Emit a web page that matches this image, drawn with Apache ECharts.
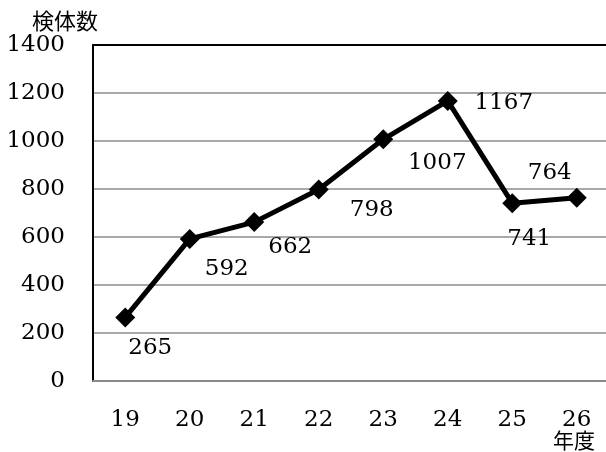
<!DOCTYPE html>
<html>
<head>
<meta charset="utf-8">
<script src="https://cdn.jsdelivr.net/npm/echarts@6/dist/echarts.min.js"></script>
<style>
  html, body { margin: 0; padding: 0; background: #fff; }
  #chart { width: 606px; height: 452px; }
</style>
</head>
<body>
<div id="chart"></div>
<script>
// Fiscal years (Heisei) and number of specimens per year
const years = ['19', '20', '21', '22', '23', '24', '25', '26'];
const specimens = [265, 592, 662, 798, 1007, 1167, 741, 764];
const yTicks = { min: 0, max: 1400, interval: 200 };

// Where each value label sits relative to its point (px)
const labelOffsets = [
  [25, 31], [37, 30], [36, 25], [53, 21],
  [54, 24], [56, 2], [17, 36], [-27, -25]
];

const serif = '"DejaVu Serif", "Liberation Serif", serif';
const cjk = '"Noto Sans CJK JP", sans-serif';

const chart = echarts.init(document.getElementById('chart'), null, { renderer: 'canvas' });

chart.setOption({
  animation: false,
  backgroundColor: '#ffffff',
  grid: {
    left: 93, top: 45, width: 516, height: 336,
    containLabel: false, outerBoundsMode: 'none'
  },
  xAxis: [
    {
      type: 'category',
      data: years,
      boundaryGap: true,
      axisLine: { show: true, lineStyle: { color: '#8a8a8a', width: 2 } },
      axisTick: { show: false },
      axisLabel: { color: '#000', fontFamily: serif, fontSize: 23, margin: 28 },
      splitLine: { show: false }
    },
    {
      // plot-area top border
      type: 'category',
      position: 'top',
      data: years,
      axisLine: { show: true, lineStyle: { color: '#000', width: 2 } },
      axisTick: { show: false },
      axisLabel: { show: false },
      splitLine: { show: false }
    }
  ],
  yAxis: {
    type: 'value',
    min: yTicks.min,
    max: yTicks.max,
    interval: yTicks.interval,
    axisLine: { show: true, lineStyle: { color: '#000', width: 2 } },
    axisTick: { show: false },
    axisLabel: {
      color: '#000', fontFamily: serif, fontSize: 23, margin: 28,
      formatter: v => String(v)
    },
    splitLine: { show: true, lineStyle: { color: '#8c8c8c', width: 1.5 } }
  },
  graphic: [
    {
      type: 'text', left: 32, top: 10,
      style: { text: '検体数', font: '22px ' + cjk, fill: '#000' }
    },
    {
      type: 'text', left: 553, top: 430,
      style: { text: '年度', font: '21px ' + cjk, fill: '#000' }
    }
  ],
  series: [{
    type: 'line',
    xAxisIndex: 0,
    data: specimens.map((v, i) => ({
      value: v,
      label: { offset: labelOffsets[i] }
    })),
    symbol: 'diamond',
    symbolSize: 20,
    lineStyle: { color: '#000', width: 5 },
    itemStyle: { color: '#000' },
    label: {
      show: true,
      position: 'inside',
      color: '#000',
      fontFamily: serif,
      fontSize: 23
    }
  }]
});
</script>
</body>
</html>
